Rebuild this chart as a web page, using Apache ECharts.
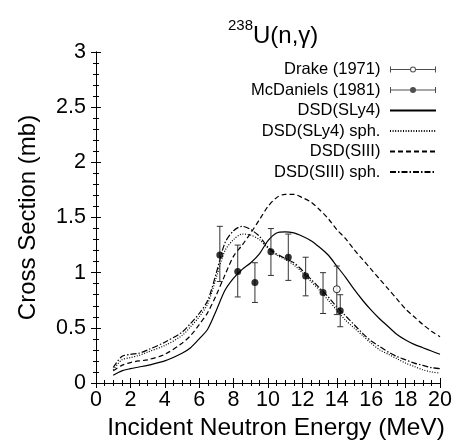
<!DOCTYPE html>
<html>
<head>
<meta charset="utf-8">
<script src="https://cdn.jsdelivr.net/npm/echarts@6/dist/echarts.min.js"></script>
<style>
html, body { margin: 0; padding: 0; background: #fff; }
#chart { width: 457px; height: 441px; }
</style>
</head>
<body>
<div id="chart"></div>
<script>
// energy grid (MeV) for the model curves
var energy = [1, 1.5, 2, 2.5, 3, 4, 5, 5.5, 6, 6.5, 7, 7.5, 8, 8.5, 9, 9.5, 10, 10.5, 11, 11.5,
	12, 12.5, 13, 13.5, 14, 14.5, 15, 15.5, 16, 16.5, 17, 17.5, 18, 18.5, 19, 19.5, 20];
var sly4 = [0.07, 0.11, 0.13, 0.145, 0.16, 0.2, 0.27, 0.32, 0.4, 0.49, 0.66, 0.84, 0.95, 1.03, 1.09, 1.17,
	1.29, 1.36, 1.37, 1.36, 1.33, 1.29, 1.23, 1.16, 1.06, 0.96, 0.85, 0.75, 0.66, 0.58, 0.51, 0.44, 0.39, 0.35, 0.32, 0.29, 0.26];
var sly4Sph = [0.12, 0.21, 0.23, 0.25, 0.28, 0.34, 0.43, 0.51, 0.6, 0.72, 0.96, 1.2, 1.3, 1.35, 1.34, 1.3,
	1.22, 1.16, 1.12, 1.07, 1.0, 0.92, 0.84, 0.75, 0.66, 0.57, 0.5, 0.43, 0.36, 0.3, 0.26, 0.22, 0.18, 0.15, 0.12, 0.1, 0.09];
var siii = [0.11, 0.16, 0.185, 0.2, 0.21, 0.26, 0.36, 0.43, 0.53, 0.64, 0.8, 0.98, 1.15, 1.25, 1.36, 1.48,
	1.6, 1.68, 1.71, 1.71, 1.68, 1.64, 1.57, 1.49, 1.39, 1.31, 1.21, 1.12, 1.03, 0.94, 0.85, 0.76, 0.67, 0.6, 0.53, 0.47, 0.42];
var siiiSph = [0.14, 0.24, 0.26, 0.27, 0.3, 0.37, 0.46, 0.54, 0.63, 0.75, 1.0, 1.27, 1.38, 1.42, 1.39, 1.33,
	1.23, 1.17, 1.13, 1.09, 1.02, 0.94, 0.86, 0.78, 0.69, 0.61, 0.53, 0.45, 0.38, 0.33, 0.28, 0.24, 0.21, 0.18, 0.16, 0.14, 0.13];

// measurements: energy, sigma, lower, upper
var mcdE = [7.2, 8.24, 9.24, 10.17, 11.18, 12.19, 13.2, 14.2];
var mcdSig = [1.16, 1.01, 0.91, 1.19, 1.14, 0.97, 0.82, 0.655];
var mcdLo = [0.92, 0.78, 0.73, 0.975, 0.93, 0.79, 0.63, 0.51];
var mcdHi = [1.42, 1.25, 1.09, 1.4, 1.35, 1.14, 1.0, 0.8];
var drakeE = [14.0];
var drakeSig = [0.85];
var drakeLo = [0.62];
var drakeHi = [1.06];

var xTicks = { min: 0, max: 20, interval: 2 };
var yTicks = { min: 0, max: 3, interval: 0.5 };

var chart = echarts.init(document.getElementById('chart'));
var font = 'Liberation Sans, Arial, Helvetica, sans-serif';

function pairs(xs, ys) {
	return xs.map(function(x, i) { return [x, ys[i]]; });
}
function bars(xs, lo, hi) {
	return xs.map(function(x, i) { return [x, lo[i], hi[i]]; });
}

function errorBar(params, api) {
	var x = api.value(0);
	var lo = api.coord([x, api.value(1)]);
	var hi = api.coord([x, api.value(2)]);
	var w = 3;
	var st = { stroke: '#333', lineWidth: 1 };
	return {
		type: 'group',
		children: [
			{ type: 'line', shape: { x1: lo[0], y1: lo[1], x2: hi[0], y2: hi[1] }, style: st },
			{ type: 'line', shape: { x1: lo[0] - w, y1: lo[1], x2: lo[0] + w, y2: lo[1] }, style: st },
			{ type: 'line', shape: { x1: hi[0] - w, y1: hi[1], x2: hi[0] + w, y2: hi[1] }, style: st }
		]
	};
}

// legend icons: bar with caps and a dot
var caps = 'M0,2H1V8H0Z M45,2H46V8H45Z ';
var iconOpen = 'path://' + caps + 'M0,4.6H20V5.4H0Z M26,4.6H46V5.4H26Z ' +
	'M20,5A3,3 0 0,1 26,5A3,3 0 0,1 20,5Z M21,5A2,2 0 0,0 25,5A2,2 0 0,0 21,5Z';
var iconFull = 'path://' + caps + 'M0,4.6H46V5.4H0Z M20,5A3,3 0 0,1 26,5A3,3 0 0,1 20,5Z';
var noDot = { opacity: 0 };

function axisCommon(extra) {
	var a = {
		type: 'value',
		axisLine: { show: true, lineStyle: { color: '#000', width: 1 } },
		axisTick: { show: true, inside: true, length: 5, lineStyle: { color: '#000' } },
		minorTick: { show: true, length: 3, lineStyle: { color: '#000' } },
		splitLine: { show: false },
		axisLabel: { show: false }
	};
	for (var k in extra) a[k] = extra[k];
	return a;
}

function curve(name, ys, type) {
	return {
		name: name,
		type: 'line',
		data: pairs(energy, ys),
		symbol: 'none',
		smooth: 0.3,
		lineStyle: { color: '#000', width: 1.2, type: type },
		itemStyle: { color: '#000' },
		z: 2
	};
}

var option = {
	backgroundColor: '#fff',
	animation: false,
	title: {
		text: '{sup|238}{main|U(n,γ)}',
		left: 228,
		top: 23,
		padding: 0,
		textStyle: {
			fontFamily: font,
			fontWeight: 'normal',
			color: '#000',
			rich: {
				sup: { fontSize: 15, lineHeight: 15, padding: [0, 0, 20, 0], fontFamily: font, fontWeight: 'normal', color: '#000' },
				main: { fontSize: 24, lineHeight: 26, fontFamily: font, fontWeight: 'normal', color: '#000' }
			}
		}
	},
	grid: { left: 96, right: 17, top: 52, bottom: 58, outerBoundsMode: 'none' },
	legend: {
		orient: 'vertical',
		right: 20,
		top: 61,
		padding: 0,
		align: 'right',
		itemWidth: 46,
		itemHeight: 6,
		itemGap: 3.5,
		selectedMode: false,
		formatter: function(n) { return n + ' '; },
		textStyle: { fontFamily: font, fontSize: 16.5, lineHeight: 16, color: '#000' },
		data: [
			{ name: 'Drake (1971)', icon: iconOpen, itemStyle: { color: '#222', borderWidth: 0 } },
			{ name: 'McDaniels (1981)', icon: iconFull, itemStyle: { color: '#222', borderWidth: 0 } },
			{ name: 'DSD(SLy4)', itemStyle: noDot },
			{ name: 'DSD(SLy4) sph.', itemStyle: noDot },
			{ name: 'DSD(SIII)', itemStyle: noDot },
			{ name: 'DSD(SIII) sph.', itemStyle: noDot }
		]
	},
	xAxis: [
		axisCommon({
			min: xTicks.min, max: xTicks.max, interval: xTicks.interval, position: 'bottom',
			minorTick: { show: true, splitNumber: 4, length: 3, lineStyle: { color: '#000' } },
			axisLabel: { show: true, fontSize: 21.5, color: '#000', fontFamily: font, margin: 6 },
			name: 'Incident Neutron Energy (MeV)',
			nameLocation: 'middle',
			nameGap: 25,
			nameTextStyle: { fontSize: 24.5, color: '#000', fontFamily: font, verticalAlign: 'top', padding: [0, 0, 0, 16] }
		}),
		axisCommon({
			min: xTicks.min, max: xTicks.max, interval: xTicks.interval, position: 'top',
			minorTick: { show: true, splitNumber: 4, length: 3, lineStyle: { color: '#000' } }
		})
	],
	yAxis: [
		axisCommon({
			min: yTicks.min, max: yTicks.max, interval: yTicks.interval, position: 'left',
			minorTick: { show: true, splitNumber: 5, length: 3, lineStyle: { color: '#000' } },
			axisLabel: { show: true, fontSize: 21.5, color: '#000', fontFamily: font, margin: 10 },
			name: 'Cross Section (mb)',
			nameLocation: 'middle',
			nameGap: 56,
			nameTextStyle: { fontSize: 24, color: '#000', fontFamily: font }
		}),
		axisCommon({
			min: yTicks.min, max: yTicks.max, interval: yTicks.interval, position: 'right',
			minorTick: { show: true, splitNumber: 5, length: 3, lineStyle: { color: '#000' } }
		})
	],
	series: [
		curve('DSD(SLy4)', sly4, 'solid'),
		curve('DSD(SLy4) sph.', sly4Sph, [1, 1.6]),
		curve('DSD(SIII)', siii, [5, 3]),
		curve('DSD(SIII) sph.', siiiSph, [6, 2, 1.5, 2]),
		{
			type: 'custom',
			renderItem: errorBar,
			encode: { x: 0, y: [1, 2] },
			data: bars(mcdE, mcdLo, mcdHi),
			z: 3
		},
		{
			type: 'custom',
			renderItem: errorBar,
			encode: { x: 0, y: [1, 2] },
			data: bars(drakeE, drakeLo, drakeHi),
			z: 3
		},
		{
			name: 'McDaniels (1981)',
			type: 'scatter',
			data: pairs(mcdE, mcdSig),
			symbol: 'circle',
			symbolSize: 7,
			itemStyle: { color: '#000' },
			z: 4
		},
		{
			name: 'Drake (1971)',
			type: 'scatter',
			data: pairs(drakeE, drakeSig),
			symbol: 'circle',
			symbolSize: 7,
			itemStyle: { color: '#fff', borderColor: '#000', borderWidth: 1 },
			z: 4
		}
	]
};
chart.setOption(option);
</script>
</body>
</html>
